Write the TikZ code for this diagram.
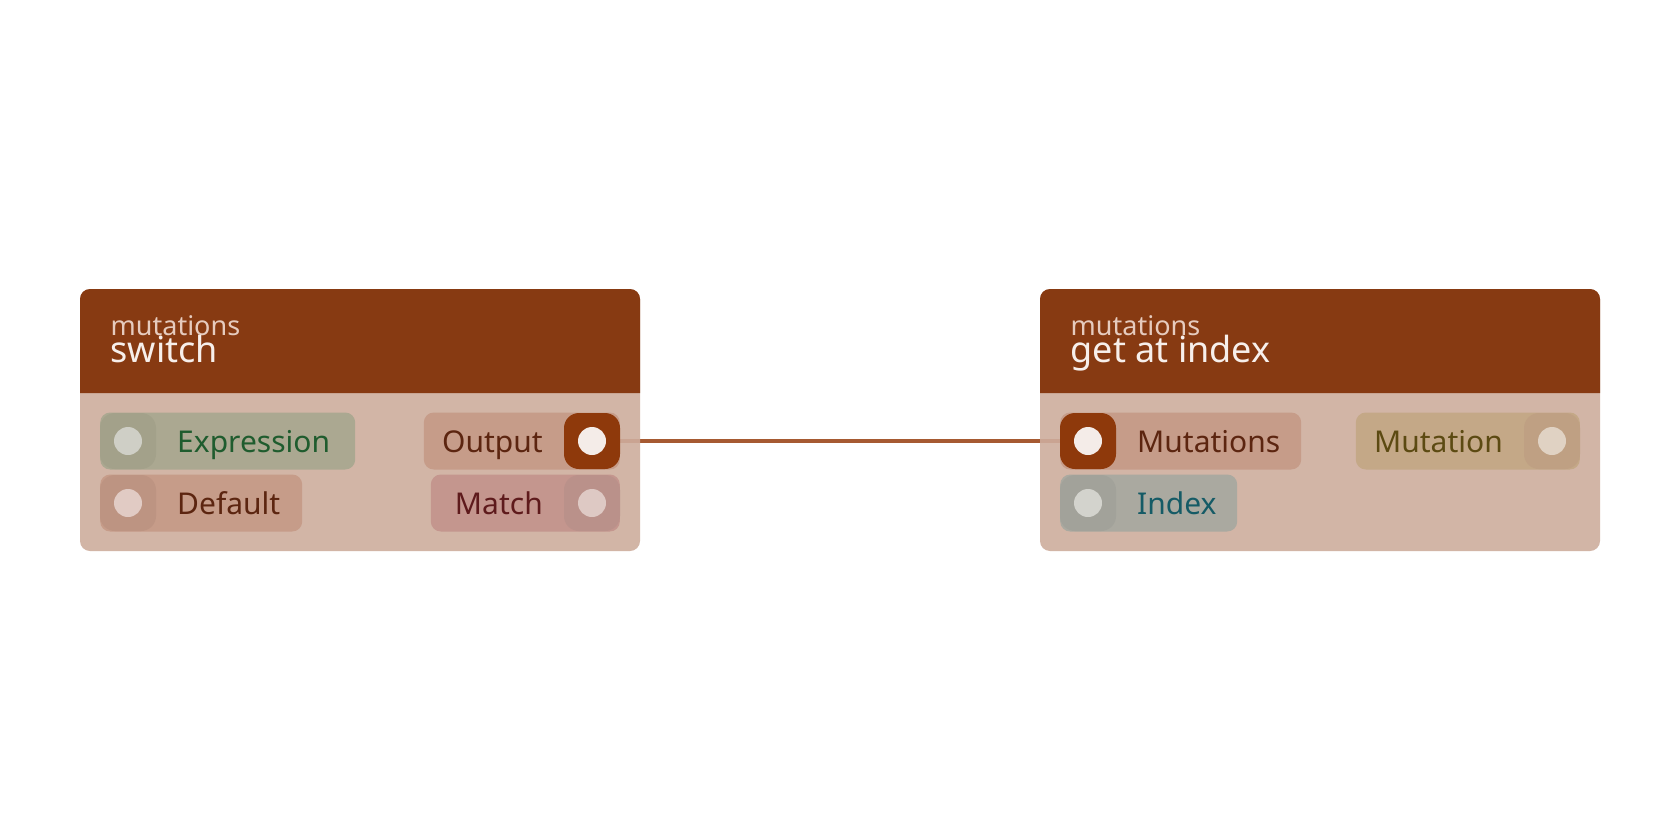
\documentclass[tikz,border=0pt]{standalone}
\usepackage{fontspec}
\setmainfont{Noto Sans}
\usepackage{tikz}
\usepackage{xcolor}
\usetikzlibrary{backgrounds}

\definecolor{hdr}{HTML}{873A12}
\definecolor{bodycol}{HTML}{CEAD9D}
\definecolor{wirecol}{HTML}{A65A32}
\definecolor{hdrsub}{HTML}{E6CBBE}
\definecolor{hdrtitle}{HTML}{F7EFEB}
\definecolor{exprpill}{HTML}{ABA891}
\definecolor{exprsock}{HTML}{A3A18A}
\definecolor{exprdot}{HTML}{CFCFC6}
\definecolor{exprtxt}{HTML}{1F5C2E}
\definecolor{defpill}{HTML}{C69C89}
\definecolor{defsock}{HTML}{BD9482}
\definecolor{defdot}{HTML}{E1CBC4}
\definecolor{deftxt}{HTML}{5C2510}
\definecolor{linksock}{HTML}{8E390B}
\definecolor{linkdot}{HTML}{F4ECE8}
\definecolor{matchpill}{HTML}{C4968E}
\definecolor{matchsock}{HTML}{BA918A}
\definecolor{matchdot}{HTML}{DEC9C4}
\definecolor{matchtxt}{HTML}{5E1A1C}
\definecolor{idxpill}{HTML}{AAA9A0}
\definecolor{idxsock}{HTML}{A2A29A}
\definecolor{idxdot}{HTML}{D3D3CD}
\definecolor{idxtxt}{HTML}{155B66}
\definecolor{mutpill}{HTML}{C4A887}
\definecolor{mutsock}{HTML}{BFA083}
\definecolor{mutdot}{HTML}{E0D2C3}
\definecolor{muttxt}{HTML}{5C4A12}

\tikzset{
  pill/.style={rounded corners=10pt, minimum height=57pt, inner sep=0pt},
  sock/.style={rounded corners=15pt, minimum width=56pt, minimum height=56pt, inner sep=0pt},
  sockdot/.style={circle, minimum size=28pt, inner sep=0pt},
  lbl/.style={font=\fontsize{30}{36}\selectfont, inner sep=0pt},
  cattxt/.style={font=\fontsize{27}{30}\selectfont, text=hdrsub, anchor=base west, inner sep=0pt},
  titletxt/.style={font=\fontsize{36}{40}\selectfont, text=hdrtitle, anchor=base west, inner sep=0pt},
  wire/.style={line width=4pt, draw=wirecol},
}

\begin{document}
\begin{tikzpicture}[x=1pt, y=-1pt]
\useasboundingbox (0,0) rectangle (1680,840);

%Cards
\foreach \cx/\nm in {80/sw, 1040/gai} {
  \fill[bodycol, fill opacity=.9, rounded corners=10pt] (\cx,289) rectangle (\cx+560,551);
  \fill[hdr] (\cx,393) [rounded corners=10pt]-- (\cx,289) -- (\cx+560,289) [sharp corners]-- (\cx+560,393) -- cycle;
}
\node[cattxt] (swcat) at (110.5,335.7) {mutations};
\node[titletxt] (swtitle) at (110.5,362.3) {switch};
\node[cattxt] (gaicat) at (1070.5,335.7) {mutations};
\node[titletxt] (gaititle) at (1070.5,362.3) {get at index};

%Inputs
\foreach \nm/\px/\py/\pw/\pc/\sc/\txt in {swexpr/100/441/255/expr/expr/Expression,
    swdef/100/503/202/def/def/Default, gaimut/1060/441/241/def/link/Mutations,
    gaiidx/1060/503/177/idx/idx/Index} {
  \node[pill, anchor=west, fill=\pc pill, minimum width=\pw pt] (\nm) at (\px,\py) {};
  \node[sock, fill=\sc sock] (\nm-s) at (\px+28,\py) {};
  \node[sockdot, fill=\sc dot] (\nm-d) at (\nm-s) {};
  \node[lbl, anchor=base west, text=\pc txt] (\nm-l) at (\px+77,\py+11) {\txt};
}

%Outputs
\foreach \nm/\px/\py/\pw/\pc/\sc/\txt in {swout/620/441/196/def/link/Output,
    swmatch/620/503/189/match/match/Match, gaiout/1580/441/224/mut/mut/Mutation} {
  \node[pill, anchor=east, fill=\pc pill, minimum width=\pw pt] (\nm) at (\px,\py) {};
  \node[sock, fill=\sc sock] (\nm-s) at (\px-28,\py) {};
  \node[sockdot, fill=\sc dot] (\nm-d) at (\nm-s) {};
  \node[lbl, anchor=base east, text=\pc txt] (\nm-l) at (\px-77,\py+11) {\txt};
}

\begin{pgfonlayer}{background}
  \fill[white] (0,0) rectangle (1680,840);
  \draw[wire] (swout-s) -- (gaimut-s);
\end{pgfonlayer}
\end{tikzpicture}
\end{document}
